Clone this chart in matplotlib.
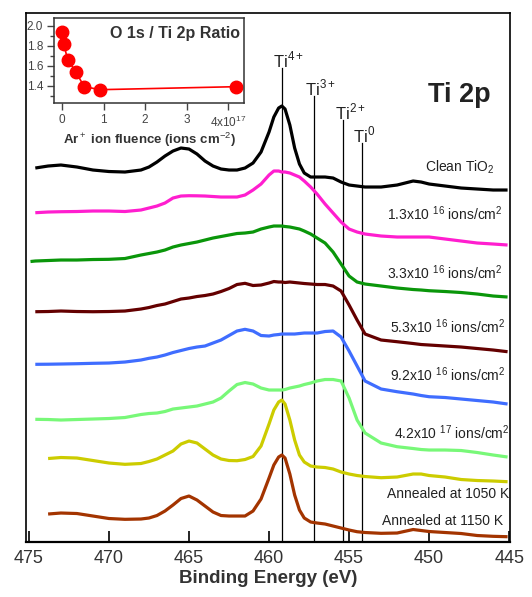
import numpy as np
import matplotlib
matplotlib.use("Agg")
import matplotlib.pyplot as plt

plt.rcParams['font.family'] = ['Liberation Sans', 'DejaVu Sans']
plt.rcParams['mathtext.fontset'] = 'custom'
plt.rcParams['mathtext.rm'] = 'Liberation Sans'
plt.rcParams['mathtext.bf'] = 'Liberation Sans:bold'

nan = np.nan

# binding energy grid (eV) shared by all spectra
energy = [474.9, 474.6, 473.8, 473.0, 472.0, 471.0, 470.0, 469.0, 468.0, 467.5, 467.0,
          466.5, 466.0, 465.5, 465.0, 464.5, 464.0, 463.5, 463.0, 462.5, 462.0,
          461.5, 461.0, 460.5, 460.0, 459.7, 459.4, 459.2, 459.0, 458.7, 458.4,
          458.1, 457.8, 457.4, 457.0, 456.5, 456.0, 455.5, 455.0, 454.5, 454.0,
          453.0, 452.0, 451.0, 450.5, 450.0, 449.0, 448.0, 447.0, 446.0, 445.1]

# stacked intensities (a.u., offset already included)
clean = [nan, 374, 376, 377, 375, 372, 370.5, 370, 372, 375, 380, 386, 391, 394, 393, 388,
         381, 376, 373, 372, 372, 374, 379, 390, 410, 425, 434, 436, 433, 417, 394,
         378, 369, 365, 365, 365, 364, 360, 357, 356, 355, 355, 357, 361, 360, 358,
         356, 354, 353, 352, 352]
f13e16 = [nan, 329.3, 330, 330.3, 330.5, 331, 331, 330.5, 332, 334, 336, 339, 344, 346, 346.3,
          346.2, 346, 345.5, 345, 345, 345, 347, 352, 358, 367, 371, 371, 370, 370, 369,
          367, 365, 361, 355, 348, 338, 329, 320, 313, 310, 308, 306, 305, 305, 305,
          305, 303, 301, 299, 298, 297]
f33e16 = [280.5, 281, 281.5, 282, 282, 282.5, 282.7, 283.5, 287, 288.5, 290, 292, 295, 297,
          298.5, 300, 302, 304, 305.5, 307, 308.5, 309, 310, 313, 315, 316, 316, 316,
          315.5, 315, 314, 313, 311, 308, 304, 299, 290, 278, 266, 260, 258, 256, 254,
          252.5, 252, 251.3, 250.5, 249.5, 248, 246, 245]
f53e16 = [nan, 230.3, 230.5, 231, 230.5, 230.3, 230.5, 231, 233, 234.5, 236.5, 238, 240.5, 243,
          244, 245.5, 246.5, 248, 250.5, 253.5, 257.5, 258.7, 256.5, 257, 259, 260.5,
          260, 260, 259.5, 260, 259.5, 259, 258.5, 258, 257.5, 257.5, 256, 251, 237,
          222, 208, 202, 200.3, 198.5, 197.5, 197, 196, 195, 193.5, 192, 190.3]
f92e16 = [nan, 177.7, 177.8, 178, 178.3, 178.7, 179, 180, 182, 183.7, 185, 187, 189.5, 191.5,
          193.5, 195, 196, 199, 202, 206.5, 211, 212.7, 211, 206.5, 206, 207, 207.5,
          208, 208, 208, 208, 208.5, 209, 209, 209, 210.5, 211, 205, 191, 176, 161,
          153, 150.3, 148, 146.5, 145.3, 144.5, 143, 141.5, 140, 138]
f42e17 = [nan, 122.7, 122.5, 122, 122.5, 123, 123.5, 124.5, 127.5, 128.5, 129, 130.5, 133, 134,
          135, 136, 138, 140, 144, 151, 157.5, 159.5, 158, 154, 152, 152, 152, 152,
          152.5, 154, 155, 156, 157.5, 159, 161, 162.5, 162.5, 161, 144, 122, 109, 99,
          95.3, 93.5, 92.5, 92, 92, 91.5, 89.5, 87, 85]
ann1050 = [nan, nan, 83.5, 84.5, 84, 81.5, 79, 77.7, 78.5, 80.5, 83, 87, 91, 98, 101, 99, 93,
           87, 83, 81.5, 81.3, 82.5, 85.5, 96, 118, 132, 140, 142, 138, 122, 102, 87,
           80, 76, 75, 74.5, 73, 70, 68, 66.5, 65.5, 64.3, 65, 68, 68, 66.5, 65, 62.5,
           61.5, 61, 60.3]
ann1150 = [nan, nan, 28, 29, 28.5, 26, 23.5, 22.7, 23, 24, 26.5, 31, 37, 43.5, 46, 42, 36, 30,
           26.5, 26, 26, 26, 31, 43, 64, 77, 85, 87, 84, 68, 47, 32, 24, 20, 19, 18, 16,
           14, 12, 10.3, 9.5, 8.7, 9, 12.5, 11.5, 10.5, 9.5, 8.5, 6.5, 5.7, 5.3]

spectra = [clean, f13e16, f33e16, f53e16, f92e16, f42e17, ann1050, ann1150]
colors = ['#000000', '#ff1ecf', '#0a960a', '#640000', '#3f6dff', '#78f878', '#cccc00', '#a33400']
labels = ['Clean TiO$_2$', '1.3x10 $^{16}$ ions/cm$^2$', '3.3x10 $^{16}$ ions/cm$^2$',
          '5.3x10 $^{16}$ ions/cm$^2$', '9.2x10 $^{16}$ ions/cm$^2$', '4.2x10 $^{17}$ ions/cm$^2$',
          'Annealed at 1050 K', 'Annealed at 1150 K']
label_pos = [(445.9, 375), (445.4, 328), (445.4, 269), (445.2, 215), (445.2, 167),
             (444.95, 109), (445.0, 48), (445.4, 21)]

# oxidation state markers
states = ['Ti$^{4+}$', 'Ti$^{3+}$', 'Ti$^{2+}$', 'Ti$^{0}$']
state_energy = [459.2, 457.2, 455.35, 454.2]
state_top = [474, 446, 422, 399]

# inset: O 1s / Ti 2p ratio vs fluence (1e17 ions/cm2)
fluence = [0, 0.04, 0.13, 0.33, 0.53, 0.92, 4.2]
ratio = [1.94, 1.82, 1.66, 1.54, 1.39, 1.36, 1.39]

fig = plt.figure(figsize=(5.32, 5.97), dpi=100)
ax = fig.add_axes([0.0483, 0.0926, 0.9103, 0.8861])

for e, top in zip(state_energy, state_top):
    ax.plot([e, e], [0, top], color='black', lw=0.9, zorder=1)
for s, e, top in zip(states, state_energy, state_top):
    ax.text(e + 0.56, top + 1, s, fontsize=12, ha='left', va='baseline', color='#222222')

for y, c in zip(spectra, colors):
    ax.plot(energy, y, color=c, lw=2.3, zorder=2, solid_capstyle='butt')
for lab, (x, y) in zip(labels, label_pos):
    ax.text(x, y, lab, fontsize=10, ha='right', va='center', color='#222222')

ax.text(450.1, 440, 'Ti 2p', fontsize=19.5, fontweight='bold', ha='left', va='baseline', color='#222222')

ax.set_xlim(475.2, 444.95)
ax.set_ylim(0.3, 529.3)
ax.set_yticks([])
ax.set_xticks([475, 470, 465, 460, 455, 450, 445])
ax.tick_params(axis='x', direction='in', length=8, width=1.2, labelsize=13,
               labelcolor='#333333', pad=6)
for sp in ax.spines.values():
    sp.set_linewidth(1.2)
ax.spines['bottom'].set_linewidth(1.6)
ax.set_xlabel('Binding Energy (eV)', fontsize=13.5, fontweight='bold', color='#333333', labelpad=2)

# inset
ins = fig.add_axes([0.102, 0.827, 0.357, 0.1434])
ins.plot(fluence, ratio, color='red', lw=1.2, marker='o', ms=9, mec='red', mfc='red')
ins.set_xlim(-0.19, 4.39)
ins.set_ylim(1.224, 2.08)
ins.set_xticks([0, 1, 2, 3, 4])
ins.set_xticklabels(['0', '1', '2', '3', '4x10$^{17}$'])
ins.set_yticks([1.4, 1.6, 1.8, 2.0])
ins.set_yticks([1.3, 1.5, 1.7, 1.9], minor=True)
ins.tick_params(which='major', direction='out', length=5, width=1, labelsize=8.5,
                colors='#444444', pad=3)
ins.tick_params(which='minor', direction='out', length=3, width=1, colors='#444444')
for sp in ins.spines.values():
    sp.set_linewidth(1.1)
    sp.set_color('#333333')
ins.text(0.98, 0.82, 'O 1s / Ti 2p Ratio', transform=ins.transAxes, fontsize=11.5,
         fontweight='bold', ha='right', va='center', color='#333333')
ins.set_xlabel('Ar$^+$ ion fluence (ions cm$^{-2}$)', fontsize=9.5, fontweight='bold',
               color='#333333', labelpad=1)

fig.savefig('out.png', dpi=100)
